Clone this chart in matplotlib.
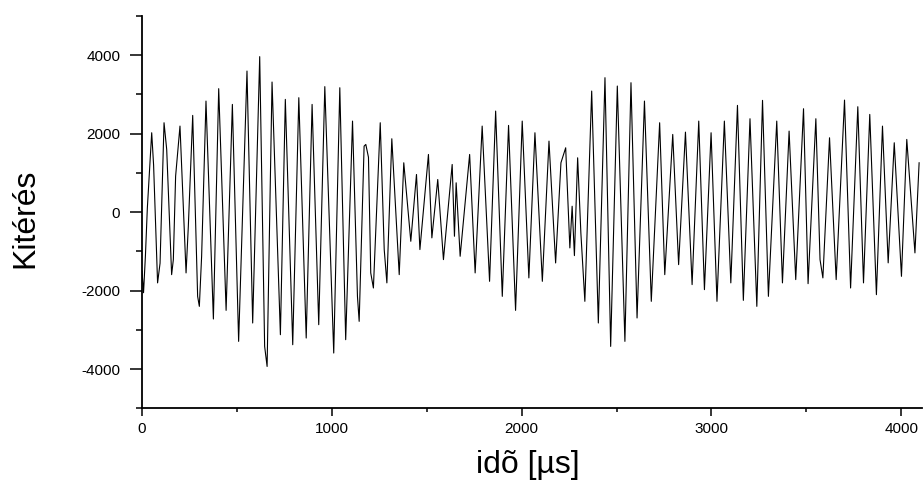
import matplotlib
matplotlib.use('Agg')
import matplotlib.pyplot as plt
from matplotlib.ticker import MultipleLocator

plt.rcParams['font.family'] = ['Liberation Sans', 'DejaVu Sans']
plt.rcParams['axes.unicode_minus'] = False

# extrema (time in us, displacement)
t_us = [0, 8, 18, 28, 51, 61, 82, 95, 116, 130, 156, 165, 177, 200, 232, 244, 267,
        293, 302, 314, 337, 376, 404, 443, 476, 509, 553, 583, 620, 646, 659, 685,
        729, 755, 794, 826, 865, 896, 931, 963, 1010, 1042, 1073, 1109, 1135, 1144,
        1170, 1179, 1193, 1205, 1219, 1255, 1276, 1290, 1316, 1355, 1379, 1416, 1446,
        1464, 1509, 1527, 1558, 1588, 1634, 1646, 1655, 1676, 1726, 1755, 1792, 1831,
        1863, 1898, 1931, 1968, 2003, 2038, 2070, 2109, 2144, 2179, 2207, 2232, 2254,
        2266, 2278, 2295, 2312, 2333, 2369, 2404, 2439, 2469, 2504, 2544, 2576, 2608,
        2647, 2683, 2727, 2754, 2796, 2827, 2863, 2898, 2933, 2963, 2998, 3029, 3068,
        3102, 3137, 3168, 3203, 3239, 3269, 3300, 3344, 3374, 3409, 3444, 3485, 3509,
        3550, 3572, 3587, 3622, 3657, 3701, 3733, 3771, 3801, 3834, 3869, 3901, 3931,
        3963, 4001, 4029, 4072, 4094]
disp = [-1500, -2050, -1100, 100, 2025, 1200, -1800, -1300, 2280, 1600, -1590, -1207,
        920, 2195, -1546, -357, 2467, -2143, -2398, -1122, 2832, -2720, 3148, -2500,
        2747, -3290, 3597, -2822, 3964, -3418, -3929, 3317, -3120, 2875, -3375, 2918,
        -3205, 2747, -2865, 3200, -3587, 3172, -3247, 2322, -2143, -2780, 1684, 1727,
        1400, -1546, -1930, 2280, -951, -1800, 1872, -1590, 1260, -740, 962, -951,
        1472, -653, 834, -1207, 1217, -612, 750, -1122, 1472, -1546, 2195, -1760, 2577,
        -2143, 2212, -2500, 2322, -1673, 2025, -1760, 1812, -1292, 1260, 1642, -909,
        153, -1105, 1387, -527, -2270, 3087, -2822, 3428, -3418, 3215, -3290, 3300,
        -2694, 2832, -2270, 2280, -1590, 1982, -1335, 2041, -1844, 2322, -1972, 2025,
        -2270, 2322, -1800, 2722, -2245, 2382, -2398, 2850, -2143, 2322, -1800, 2067,
        -1716, 2637, -1820, 2382, -1207, -1673, 1897, -1716, 2857, -1930, 2688, -1800,
        2492, -2100, 2194, -1290, 1770, -1633, 1855, -1036, 1260]

fig, ax = plt.subplots(figsize=(9.24, 4.84), dpi=100)
fig.subplots_adjust(left=0.1537, right=0.998, bottom=0.156, top=0.967)

ax.plot(t_us, disp, color='black', lw=0.8)

ax.set_xlim(0, 4110)
ax.set_ylim(-5000, 5000)
ax.xaxis.set_major_locator(MultipleLocator(1000))
ax.xaxis.set_minor_locator(MultipleLocator(500))
ax.yaxis.set_major_locator(MultipleLocator(2000))
ax.yaxis.set_minor_locator(MultipleLocator(1000))

for side in ('top', 'right'):
    ax.spines[side].set_visible(False)
for side in ('left', 'bottom'):
    ax.spines[side].set_linewidth(1.3)

ax.tick_params(axis='y', which='major', length=8.6, width=1.1, pad=7, labelsize=11)
ax.tick_params(axis='y', which='minor', length=4.3, width=1.1)
ax.tick_params(axis='x', which='major', length=6, width=1.1, pad=3.5, labelsize=11)
ax.tick_params(axis='x', which='minor', length=3, width=1.1)

ax.set_xlabel('idõ [µs]', fontsize=23)
ax.set_ylabel('Kitérés', fontsize=23)
ax.xaxis.set_label_coords(0.494, -0.105)
ax.yaxis.set_label_coords(-0.13, 0.485)

fig.savefig('out.png', dpi=100)
